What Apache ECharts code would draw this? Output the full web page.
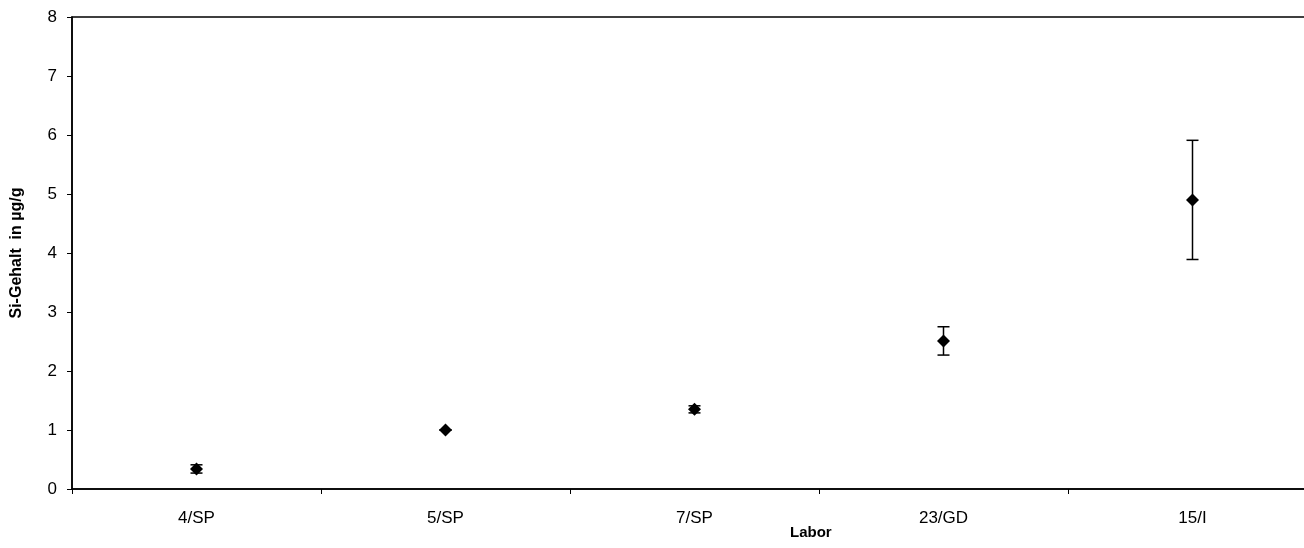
<!DOCTYPE html>
<html>
<head>
<meta charset="utf-8">
<script src="https://cdn.jsdelivr.net/npm/echarts@6/dist/echarts.min.js"></script>
<style>
  html, body { margin: 0; padding: 0; background: #fff; }
  #chart { width: 1304px; height: 548px; }
</style>
</head>
<body>
<div id="chart"></div>
<script>
// Si content per laboratory: mean and standard deviation
const labs = ['4/SP', '5/SP', '7/SP', '23/GD', '15/I'];
const means = [0.34, 1.0, 1.35, 2.51, 4.9];
const errs = [0.07, 0.0, 0.06, 0.24, 1.01];
const yTicks = [0, 1, 2, 3, 4, 5, 6, 7, 8];

const FONT = 'Liberation Sans, Arial, sans-serif';

const errData = labs.map((l, i) => [i, means[i] - errs[i], means[i] + errs[i]]);

const chart = echarts.init(document.getElementById('chart'), null, { renderer: 'canvas' });

chart.setOption({
  animation: false,
  backgroundColor: '#ffffff',
  grid: {
    left: 72,
    top: 17,
    width: 1245,
    height: 472,
    outerBoundsMode: 'none',
    containLabel: false,
    show: true,
    borderColor: '#000',
    borderWidth: 1.5,
    backgroundColor: 'transparent'
  },
  xAxis: {
    type: 'category',
    data: labs,
    boundaryGap: true,
    axisLine: { show: true, lineStyle: { color: '#000', width: 1.5 } },
    axisTick: { show: true, alignWithLabel: false, length: 5, inside: false, lineStyle: { color: '#000', width: 1 } },
    axisLabel: { color: '#000', fontFamily: FONT, fontSize: 17, margin: 21 },
    splitLine: { show: false }
  },
  yAxis: {
    type: 'value',
    min: yTicks[0],
    max: yTicks[yTicks.length - 1],
    interval: 1,
    name: 'Si-Gehalt  in µg/g',
    nameLocation: 'middle',
    nameGap: 47,
    nameTextStyle: { color: '#000', fontFamily: FONT, fontSize: 16, fontWeight: 'bold' },
    axisLine: { show: true, lineStyle: { color: '#000', width: 1.5 } },
    axisTick: { show: true, length: 5, lineStyle: { color: '#000', width: 1 } },
    axisLabel: { color: '#000', fontFamily: FONT, fontSize: 17, margin: 15 },
    splitLine: { show: false }
  },
  graphic: [{
    type: 'text',
    left: 790,
    top: 525,
    style: { text: 'Labor', fill: '#000', font: 'bold 15px ' + FONT }
  }],
  series: [
    {
      type: 'custom',
      data: errData,
      z: 2,
      renderItem: function (params, api) {
        const x = api.coord([api.value(0), 0])[0];
        const lo = api.coord([api.value(0), api.value(1)])[1];
        const hi = api.coord([api.value(0), api.value(2)])[1];
        const half = 6;
        const st = { stroke: '#000', lineWidth: 1.5 };
        return {
          type: 'group',
          children: [
            { type: 'line', shape: { x1: x, y1: lo, x2: x, y2: hi }, style: st },
            { type: 'line', shape: { x1: x - half, y1: hi, x2: x + half, y2: hi }, style: st },
            { type: 'line', shape: { x1: x - half, y1: lo, x2: x + half, y2: lo }, style: st }
          ]
        };
      }
    },
    {
      type: 'scatter',
      data: means.map((v, i) => [i, v]),
      symbol: 'diamond',
      symbolSize: 13,
      itemStyle: { color: '#000', opacity: 1 },
      z: 3
    }
  ]
});
</script>
</body>
</html>
